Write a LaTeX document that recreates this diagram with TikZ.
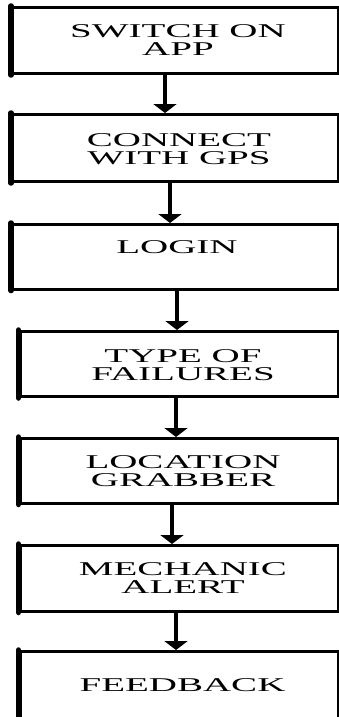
\documentclass[tikz,border=0pt]{standalone}
\usepackage{fontspec}
\newfontfamily\boxfont[FakeStretch=2]{Liberation Serif}
\usetikzlibrary{arrows.meta}
\tikzset{
  stepbox/.style={draw=black, line width=3pt, fill=white, inner sep=0pt, rectangle},
  lbl/.style={font=\boxfont\fontsize{19.5}{18}\selectfont, align=center, inner sep=0pt, text=black},
  arr/.style={line width=4.5pt, -{Triangle[width=23pt,length=9pt]}},
  thickside/.style={line width=5.5pt, line cap=round}
}
\newcommand{\mybox}[4]{% name, left, top, bottom
  \node[stepbox, minimum width={338.5pt-#2pt}, minimum height={#4pt-#3pt}]
    (#1) at ({(338.5pt+#2pt)/2},{-(#3pt+#4pt)/2}) {};
  \draw[thickside] (#1.north west) -- (#1.south west);
}
\begin{document}
\begin{tikzpicture}[x=1pt,y=1pt]
\useasboundingbox (0,0) rectangle (338,-717);
\fill[white] (0,0) rectangle (338,-717);

\mybox{b1}{12.5}{7.5}{73.5}
\mybox{b2}{12.5}{114.5}{181.5}
\mybox{b3}{12.5}{224.5}{289}
\mybox{b4}{20}{331.5}{396.5}
\mybox{b5}{20}{438.5}{503}
\mybox{b6}{20}{545.5}{611}
\mybox{b7}{20}{651.5}{718.5}

\node[lbl] (t1) at (178,-40) {SWITCH ON\\APP};
\node[lbl] (t2) at (179,-149) {CONNECT\\WITH GPS};
\node[lbl] (t3) at (177,-247.5) {LOGIN};
\node[lbl] (t4) at (183,-365.5) {TYPE OF\\FAILURES};
\node[lbl] (t5) at (183,-471) {LOCATION\\GRABBER};
\node[lbl] (t6) at (183,-578) {MECHANIC\\ALERT};
\node[lbl] (t7) at (182.5,-685.5) {FEEDBACK};

\coordinate (x1) at (165,0);
\coordinate (x2) at (170,0);
\coordinate (x3) at (177,0);
\coordinate (x4) at (176,0);
\coordinate (x5) at (172,0);
\coordinate (x6) at (176,0);

\draw[arr] (b1.south -| x1) -- (b2.north -| x1);
\draw[arr] (b2.south -| x2) -- (b3.north -| x2);
\draw[arr] (b3.south -| x3) -- (b4.north -| x3);
\draw[arr] (b4.south -| x4) -- (b5.north -| x4);
\draw[arr] (b5.south -| x5) -- (b6.north -| x5);
\draw[arr] (b6.south -| x6) -- (b7.north -| x6);
\end{tikzpicture}
\end{document}
